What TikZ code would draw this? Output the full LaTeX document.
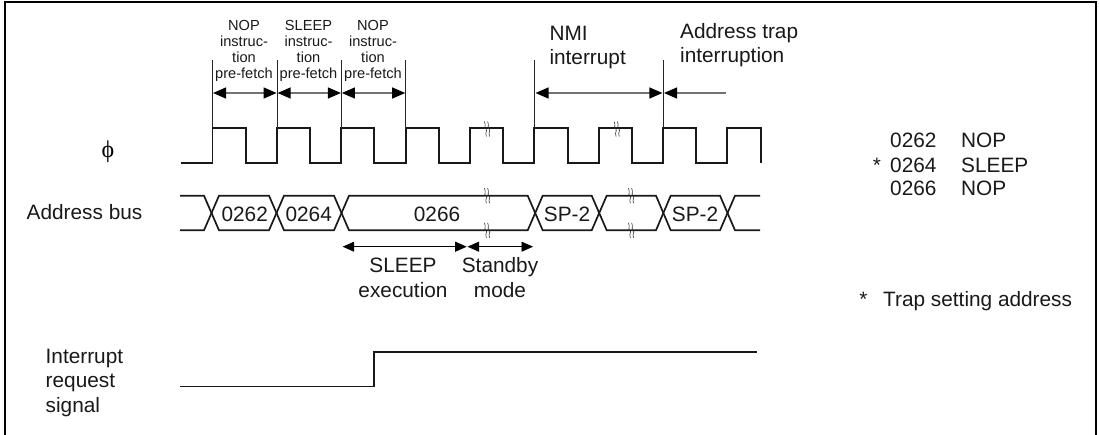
\documentclass[tikz,border=0pt]{standalone}
\usepackage{fontspec}
\setmainfont{Liberation Sans}
\newfontfamily\phifont{Liberation Serif}
\usetikzlibrary{arrows.meta}
\tikzset{
  x=1pt,y=-1pt,
  sig/.style={line width=1.7pt,line join=miter,black!90},
  guide/.style={line width=0.9pt,black!85},
  dim/.style={line width=1.2pt,black!55,{Triangle[length=13pt,width=11pt,black]}-{Triangle[length=13pt,width=11pt,black]}},
  dimr/.style={line width=1.2pt,black!55,{Triangle[length=13pt,width=11pt,black]}-},
  dimk/.style={line width=0.8pt,black,{Triangle[length=11.5pt,width=10pt,black]}-{Triangle[length=11.5pt,width=10pt,black]}},
  lab/.style={inner sep=0pt,align=center,font=\fontsize{20.8}{25}\selectfont,text=black!90},
  labs/.style={inner sep=0pt,align=center,font=\fontsize{14.6}{16.1}\selectfont,text=black!90},
  labl/.style={inner sep=0pt,align=left,font=\fontsize{20.8}{24.6}\selectfont,text=black!90},
  brk/.pic={\draw[line width=0.6pt,black!80] (-2.6,-7.5) .. controls (-0.5,-3.5) and (-3.5,-1) .. (-1,0) .. controls (1,1.5) and (-2.5,3.5) .. (-0.6,7.5);
            \draw[line width=0.6pt,black!80] (0.6,-7.5) .. controls (2.7,-3.5) and (-0.3,-1) .. (2.2,0) .. controls (4.2,1.5) and (0.7,3.5) .. (2.6,7.5);}
}
\begin{document}
\begin{tikzpicture}
\useasboundingbox (0,0) rectangle (1099,435);
\draw[line width=2.4pt,black] (5,440) -- (5,1.8) -- (1096,1.8) -- (1096,440);
% clock
\draw[sig] (181,162.7) -- (212.5,162.7) -- (212.5,128) -- (246,128) -- (246,162.7) -- (277,162.7) -- (277,128) -- (310,128) -- (310,162.7) -- (341.3,162.7) -- (341.3,128) -- (374,128) -- (374,162.7) -- (405.7,162.7) -- (405.7,128) -- (439,128) -- (439,162.7) -- (470,162.7) -- (470,128) -- (503,128) -- (503,162.7) -- (534.3,162.7) -- (534.3,128) -- (567.7,128) -- (567.7,162.7) -- (599,162.7) -- (599,128) -- (632,128) -- (632,162.7) -- (663,162.7) -- (663,128) -- (696,128) -- (696,162.7) -- (727.3,162.7) -- (727.3,128) -- (761,128) -- (761,162.7);
% guides
\foreach \x in {212.5,277,341.3,405.7,534.3,663}
  \draw[guide] (\x,60) -- (\x,128);
\coordinate (g1) at (213,93); \coordinate (g2) at (276.6,93); \coordinate (g2b) at (277.6,93); \coordinate (g3) at (340.9,93);
\coordinate (g3b) at (341.9,93); \coordinate (g4) at (405.2,93); \coordinate (g5) at (535.5,93); \coordinate (g6) at (662.4,93);
\coordinate (g6b) at (664,93); \coordinate (g7) at (726,93);
\draw[dim] (g1) -- (g2);
\draw[dim] (g2b) -- (g3);
\draw[dim] (g3b) -- (g4);
\draw[dim] (g5) -- (g6);
\draw[dimr] (g6b) -- (g7);
% bus
\draw[sig] (180,195.7) -- (204,195.7) -- (219,230.3) -- (269,230.3) -- (284,195.7) -- (334,195.7) -- (349,230.3) -- (527.7,230.3) -- (542.7,195.7) -- (591.7,195.7) -- (606.7,230.3) -- (656,230.3) -- (670.7,195.7) -- (720,195.7) -- (735,230.3) -- (760,230.3);
\draw[sig] (180,230.3) -- (204,230.3) -- (219,195.7) -- (269,195.7) -- (284,230.3) -- (334,230.3) -- (349,195.7) -- (527.7,195.7) -- (542.7,230.3) -- (591.7,230.3) -- (606.7,195.7) -- (656,195.7) -- (670.7,230.3) -- (720,230.3) -- (735,195.7) -- (760,195.7);
% breaks
\foreach \x/\y in {487/129,616.7/129,487/195.7,487/230.3,631/195.7,631/230.3}
  \pic at (\x,\y) {brk};
% dims below
\coordinate (s1) at (342.7,246.7); \coordinate (s2) at (466.7,246.7); \coordinate (s3) at (467.5,246.7); \coordinate (s4) at (533,246.7);
\draw[dimk] (s1) -- (s2);
\draw[dimk] (s3) -- (s4);
% interrupt
\draw[sig] (180,386.5) -- (374,386.5) -- (374,352) -- (757,352);
% labels
\node[labs,anchor=base] (l1) at (244,79) {NOP\\instruc-\\tion\\pre-fetch};
\node[labs,anchor=base] (l2) at (308.5,79) {SLEEP\\instruc-\\tion\\pre-fetch};
\node[labs,anchor=base] (l3) at (373,79) {NOP\\instruc-\\tion\\pre-fetch};
\node[labl,anchor=base west] (l4) at (549.3,65) {NMI\\interrupt};
\node[labl,anchor=base west] (l5) at (680,63) {Address trap\\interruption};
\node[inner sep=0pt,anchor=base,font=\phifont\fontsize{24}{25}\selectfont] (phi) at (108,158) {ϕ};
\node[labl,anchor=base west] (ab) at (26.5,220) {Address bus};
\node[lab,anchor=base] (a1) at (244.7,221.7) {0262};
\node[lab,anchor=base] (a2) at (308.7,221.7) {0264};
\node[lab,anchor=base] (a3) at (437,221.7) {0266};
\node[lab,anchor=base] (a4) at (567,221.7) {SP-2};
\node[lab,anchor=base] (a5) at (695,221.7) {SP-2};
\node[lab,anchor=base] (e1) at (403,297.7) {SLEEP\\execution};
\node[lab,anchor=base] (e2) at (500,297.7) {Standby\\mode};
\node[labl,anchor=base west] (ir) at (45.5,412.5) {Interrupt\\request\\signal};
\node[labl,anchor=base west] (m1) at (890,147.7) {0262};
\node[labl,anchor=base west] (m2) at (890,172.3) {0264};
\node[labl,anchor=base west] (m3) at (890,196) {0266};
\node[labl,anchor=base west] (n1) at (961,147.7) {NOP};
\node[labl,anchor=base west] (n2) at (961,172.3) {SLEEP};
\node[labl,anchor=base west] (n3) at (961,196) {NOP};
\node[labl,anchor=base] (st1) at (877,172.3) {*};
\node[labl,anchor=base] (st2) at (863.5,306.7) {*};
\node[labl,anchor=base west] (t) at (883,306.7) {Trap setting address};
\end{tikzpicture}
\end{document}
